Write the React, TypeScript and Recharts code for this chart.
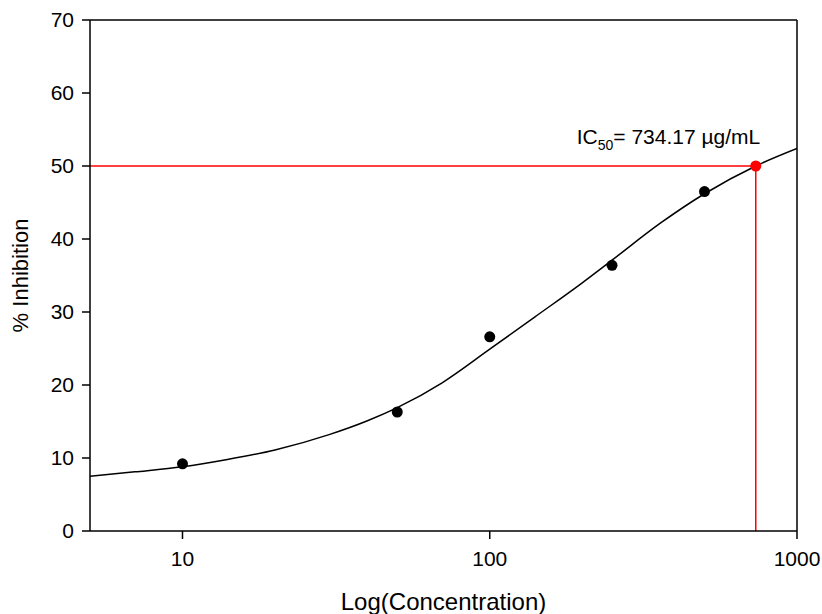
import React from 'react'
import {
  ComposedChart, Line, Scatter, XAxis, YAxis, ReferenceLine, ReferenceDot,
} from 'recharts'

// fitted curve (concentration, % inhibition)
const curveX = [5, 7, 10, 14, 20, 30, 40, 50, 70, 100, 140, 200, 250, 360, 500, 734.17, 1000]
const curveY = [7.5, 8.1, 8.8, 9.8, 11.1, 13.2, 15.1, 16.9, 20.3, 24.9, 29.3, 34.0, 37.1, 42.2, 46.2, 50.0, 52.4]

// measured points
const pointX = [10, 50, 100, 250, 500]
const pointY = [9.2, 16.3, 26.6, 36.4, 46.5]

const ic50X = 734.17
const ic50Y = 50

const xTicks = [10, 100, 1000]
const yTicks = [0, 10, 20, 30, 40, 50, 60, 70]

const curveData = curveX.map((x, i) => ({ x, y: curveY[i] }))
const pointData = pointX.map((x, i) => ({ x, y: pointY[i] }))

const FONT = 'Liberation Sans, Arial, sans-serif'

function YTitle({ viewBox }: any) {
  const cy = viewBox.y + viewBox.height / 2
  return (
    <text x={28} y={cy} transform={`rotate(-90 28 ${cy})`} textAnchor="middle"
      fontFamily={FONT} fontSize={22} fill="#000">
      % Inhibition
    </text>
  )
}

function XTitle({ viewBox }: any) {
  const cx = viewBox.x + viewBox.width / 2
  return (
    <text x={cx} y={610} textAnchor="middle" fontFamily={FONT} fontSize={24} fill="#000">
      Log(Concentration)
    </text>
  )
}

function IcLabel({ viewBox }: any) {
  // viewBox is the dot's box, so its centre is the IC50 point
  const cx = viewBox.x + viewBox.width / 2
  const cy = viewBox.y + viewBox.height / 2
  return (
    <text x={cx - 179} y={cy - 22} fontFamily={FONT} fontSize={21} fill="#000">
      IC<tspan fontSize={14} dy={6}>50</tspan><tspan dy={-6}>= 734.17 µg/mL</tspan>
    </text>
  )
}

export default function App() {
  const tick = { fontSize: 21, fill: '#000', fontFamily: FONT }
  return (
    <div style={{ position: 'absolute', left: 0, top: 0, background: '#fff' }}>
      <ComposedChart width={822} height={614} margin={{ top: 20, right: 25, bottom: 0, left: 0 }}>
        <XAxis
          dataKey="x"
          type="number"
          scale="log"
          domain={[5, 1000]}
          ticks={xTicks}
          allowDataOverflow
          height={83}
          tick={tick}
          tickSize={8}
          tickMargin={12}
          stroke="#000"
          strokeWidth={1.5}
          tickLine={{ stroke: '#000', strokeWidth: 1.5 }}
          label={<XTitle />}
        />
        <YAxis
          dataKey="y"
          type="number"
          domain={[0, 70]}
          ticks={yTicks}
          width={90}
          tick={tick}
          tickSize={8}
          tickMargin={8}
          stroke="#000"
          strokeWidth={1.5}
          tickLine={{ stroke: '#000', strokeWidth: 1.5 }}
          label={<YTitle />}
        />
        <ReferenceLine y={70} stroke="#000" strokeWidth={1.5} />
        <ReferenceLine x={1000} stroke="#000" strokeWidth={1.5} />
        <ReferenceLine
          segment={[{ x: 5, y: ic50Y }, { x: ic50X, y: ic50Y }]}
          stroke="#ff0000"
          strokeWidth={1.5}
        />
        <ReferenceLine
          segment={[{ x: ic50X, y: 0 }, { x: ic50X, y: ic50Y }]}
          stroke="#ff0000"
          strokeWidth={1.5}
        />
        <Line
          data={curveData}
          dataKey="y"
          type="monotone"
          stroke="#000"
          strokeWidth={1.5}
          dot={false}
          activeDot={false}
          isAnimationActive={false}
        />
        <Scatter data={pointData} dataKey="y" fill="#000" isAnimationActive={false}
          shape={(p: any) => <circle cx={p.cx} cy={p.cy} r={5.5} fill="#000" />} />
        <ReferenceDot x={ic50X} y={ic50Y} r={5.5} fill="#ff0000" stroke="none"
          ifOverflow="visible" label={<IcLabel />} />
      </ComposedChart>
    </div>
  )
}
